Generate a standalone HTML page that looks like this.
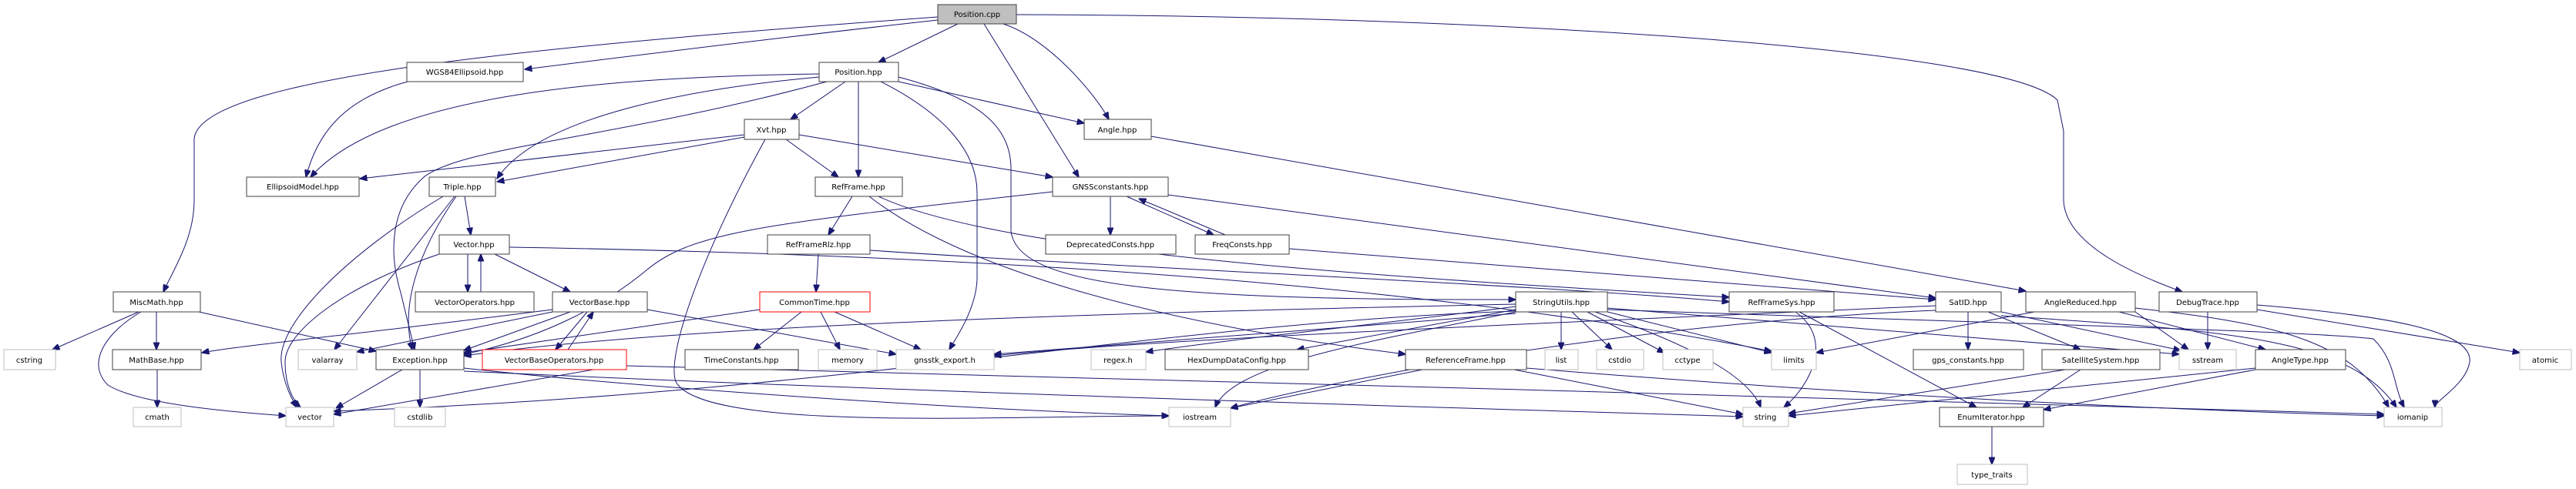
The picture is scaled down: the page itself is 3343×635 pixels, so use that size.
<!DOCTYPE html>
<html><head><meta charset="utf-8"><style>
html,body{margin:0;padding:0;background:#fff;}
svg{display:block;}
text{font-family:"DejaVu Sans","Liberation Sans",sans-serif;font-size:10px;fill:#000;text-anchor:middle;}
.e{fill:none;stroke:#191970;stroke-width:1;marker-end:url(#a);}
.n{fill:#fff;stroke:#404040;stroke-width:1;}
.g{fill:#fff;stroke:#bfbfbf;stroke-width:1;}
.r{fill:#fff;stroke:#ff0000;stroke-width:1;}
</style></head><body>
<svg width="3343" height="635" viewBox="0 0 3343 635" xmlns="http://www.w3.org/2000/svg">
<defs><marker id="a" markerWidth="10" markerHeight="8" refX="9.5" refY="4" orient="auto" markerUnits="userSpaceOnUse"><path d="M0,0 L10,4 L0,8 Z" fill="#191970" stroke="#191970"/></marker></defs>
<g>
<path class="e" d="M1217,26 C1000,50 800,75 681,90"/>
<path class="e" d="M1217,22 C700,60 260,100 252,180 L252,260 C252,310 225,350 212,379"/>
<path class="e" d="M1243,31 L1140,81"/>
<path class="e" d="M1277,31 L1400,230"/>
<path class="e" d="M1302,31 C1360,50 1420,120 1439,155"/>
<path class="e" d="M1319,19 C1900,20 2600,60 2670,130 L2678,170 L2678,260 C2680,320 2780,360 2832,379"/>
<path class="e" d="M1097,106 L1026,155"/>
<path class="e" d="M1114,106 L1114,230"/>
<path class="e" d="M1166,106 L1407,160"/>
<path class="e" d="M1143,106 C1230,150 1268,200 1268,250 L1268,360 C1268,400 1240,440 1232,454"/>
<path class="e" d="M1166,100 C1280,130 1312,170 1312,220 L1312,300 C1320,370 1500,390 1967,389"/>
<path class="e" d="M1063,96 C800,100 500,120 403,230"/>
<path class="e" d="M1063,100 C900,115 700,150 645,232"/>
<path class="e" d="M1073,106 C800,180 600,190 550,230 C505,270 505,330 520,380 L538,454"/>
<path class="e" d="M529,106 C440,130 410,180 397,230"/>
<path class="e" d="M966,175 L467,232"/>
<path class="e" d="M966,178 L645,236"/>
<path class="e" d="M1020,181 L1088,230"/>
<path class="e" d="M1037,175 L1366,230"/>
<path class="e" d="M993,181 C900,350 860,480 880,500 C930,560 1300,540 1517,540"/>
<path class="e" d="M603,255 L611,305"/>
<path class="e" d="M575,255 C450,330 360,420 365,470 C368,500 380,520 385,529"/>
<path class="e" d="M590,255 L434,454"/>
<path class="e" d="M592,255 C540,330 520,400 535,454"/>
<path class="e" d="M607,330 L607,379"/>
<path class="e" d="M624,379 L624,330"/>
<path class="e" d="M642,330 L740,379"/>
<path class="e" d="M570,330 C450,370 370,430 370,470 C370,500 380,520 390,529"/>
<path class="e" d="M661,321 C1200,330 1800,360 2299,456"/>
<path class="e" d="M762,405 L721,454"/>
<path class="e" d="M737,454 L770,405"/>
<path class="e" d="M740,405 L602,455"/>
<path class="e" d="M717,402 C500,430 300,450 262,458"/>
<path class="e" d="M840,402 L1163,460"/>
<path class="e" d="M717,405 L463,457"/>
<path class="e" d="M770,480 L433,538"/>
<path class="e" d="M813,475 C1300,490 2600,520 3094,538"/>
<path class="e" d="M522,480 L436,530"/>
<path class="e" d="M545,480 L545,529"/>
<path class="e" d="M602,478 C800,500 1200,530 1517,540"/>
<path class="e" d="M602,482 C1200,510 1900,530 2262,541"/>
<path class="e" d="M180,405 L68,454"/>
<path class="e" d="M203,405 L203,454"/>
<path class="e" d="M183,405 C140,430 110,470 140,500 C180,525 300,535 371,540"/>
<path class="e" d="M258,405 L488,456"/>
<path class="e" d="M204,480 L204,529"/>
<path class="e" d="M1106,255 L1075,305"/>
<path class="e" d="M1140,255 C1300,330 1800,360 2244,386"/>
<path class="e" d="M1128,255 C1250,350 1500,420 1824,460"/>
<path class="e" d="M1062,330 L1059,379"/>
<path class="e" d="M1129,325 C1500,350 2000,370 2244,392"/>
<path class="e" d="M1040,405 L978,454"/>
<path class="e" d="M1065,405 L1090,454"/>
<path class="e" d="M1083,405 L1195,454"/>
<path class="e" d="M986,402 L602,458"/>
<path class="e" d="M1441,255 L1441,305"/>
<path class="e" d="M1462,255 L1575,305"/>
<path class="e" d="M1590,305 L1478,258"/>
<path class="e" d="M1366,249 C1000,290 900,300 840,350 C780,400 700,440 602,460"/>
<path class="e" d="M1516,253 L2512,387"/>
<path class="e" d="M1673,323 L2512,389"/>
<path class="e" d="M1494,177 L2629,378"/>
<path class="e" d="M1967,395 C1500,405 900,420 602,462"/>
<path class="e" d="M1967,398 C1800,420 1600,440 1487,457"/>
<path class="e" d="M1967,402 L1683,454"/>
<path class="e" d="M1967,405 C1800,440 1600,470 1577,529"/>
<path class="e" d="M2026,405 L2026,454"/>
<path class="e" d="M2040,405 L2092,454"/>
<path class="e" d="M2060,405 L2160,458"/>
<path class="e" d="M2086,405 L2299,458"/>
<path class="e" d="M2070,405 C2200,450 2270,490 2285,529"/>
<path class="e" d="M2086,400 L2828,460"/>
<path class="e" d="M2086,402 C2600,420 3000,430 3080,440 C3110,470 3105,500 3120,529"/>
<path class="e" d="M1967,407 C1700,430 1400,450 1290,460"/>
<path class="e" d="M1967,404 C1500,420 1100,510 433,534"/>
<path class="e" d="M2330,405 C2380,440 2350,500 2315,529"/>
<path class="e" d="M2335,405 L2565,529"/>
<path class="e" d="M2554,405 L2554,454"/>
<path class="e" d="M2580,405 L2700,454"/>
<path class="e" d="M2512,397 C2000,420 1500,440 1290,462"/>
<path class="e" d="M2512,403 C2100,420 1700,500 1597,530"/>
<path class="e" d="M2597,405 L2830,455"/>
<path class="e" d="M2597,410 C2900,430 3050,440 3110,529"/>
<path class="e" d="M2640,405 L2357,458"/>
<path class="e" d="M2750,405 L2940,454"/>
<path class="e" d="M2771,405 L2840,454"/>
<path class="e" d="M2771,400 C2950,420 3050,440 3100,529"/>
<path class="e" d="M2865,405 L2865,454"/>
<path class="e" d="M2929,402 L3270,458"/>
<path class="e" d="M2929,396 C3100,410 3210,430 3205,470 C3200,500 3160,520 3160,529"/>
<path class="e" d="M2680,480 L2321,537"/>
<path class="e" d="M2700,480 L2625,529"/>
<path class="e" d="M2927,480 L2652,532"/>
<path class="e" d="M2927,478 L2321,540"/>
<path class="e" d="M1846,480 L1597,530"/>
<path class="e" d="M1965,480 L2262,538"/>
<path class="e" d="M1981,478 C2500,520 2900,535 3094,540"/>
<path class="e" d="M2585,554 L2585,603"/>
</g>
<g>
<rect x="1217" y="6" width="102" height="25" fill="#bfbfbf" stroke="#404040"/><text x="1268" y="22">Position.cpp</text>
<rect class="n" x="528" y="81" width="151" height="25"/><text x="603" y="97">WGS84Ellipsoid.hpp</text>
<rect class="n" x="1063" y="81" width="103" height="25"/><text x="1114" y="97">Position.hpp</text>
<rect class="n" x="966" y="155" width="71" height="26"/><text x="1001" y="172">Xvt.hpp</text>
<rect class="n" x="1407" y="155" width="87" height="26"/><text x="1450" y="172">Angle.hpp</text>
<rect class="n" x="320" y="230" width="146" height="25"/><text x="393" y="246">EllipsoidModel.hpp</text>
<rect class="n" x="557" y="230" width="86" height="25"/><text x="600" y="246">Triple.hpp</text>
<rect class="n" x="1058" y="230" width="113" height="25"/><text x="1114" y="246">RefFrame.hpp</text>
<rect class="n" x="1366" y="230" width="150" height="25"/><text x="1441" y="246">GNSSconstants.hpp</text>
<rect class="n" x="570" y="305" width="91" height="25"/><text x="615" y="321">Vector.hpp</text>
<rect class="n" x="996" y="305" width="133" height="25"/><text x="1062" y="321">RefFrameRlz.hpp</text>
<rect class="n" x="1357" y="305" width="169" height="25"/><text x="1441" y="321">DeprecatedConsts.hpp</text>
<rect class="n" x="1551" y="305" width="122" height="25"/><text x="1612" y="321">FreqConsts.hpp</text>
<rect class="n" x="147" y="379" width="113" height="26"/><text x="203" y="396">MiscMath.hpp</text>
<rect class="n" x="539" y="379" width="154" height="26"/><text x="616" y="396">VectorOperators.hpp</text>
<rect class="n" x="717" y="379" width="123" height="26"/><text x="778" y="396">VectorBase.hpp</text>
<rect class="r" x="986" y="379" width="143" height="26"/><text x="1057" y="396">CommonTime.hpp</text>
<rect class="n" x="1967" y="379" width="119" height="26"/><text x="2026" y="396">StringUtils.hpp</text>
<rect class="n" x="2244" y="379" width="136" height="26"/><text x="2312" y="396">RefFrameSys.hpp</text>
<rect class="n" x="2512" y="379" width="85" height="26"/><text x="2554" y="396">SatID.hpp</text>
<rect class="n" x="2629" y="379" width="142" height="26"/><text x="2700" y="396">AngleReduced.hpp</text>
<rect class="n" x="2802" y="379" width="127" height="26"/><text x="2865" y="396">DebugTrace.hpp</text>
<rect class="g" x="5" y="454" width="67" height="26"/><text x="38" y="471">cstring</text>
<rect class="n" x="146" y="454" width="115" height="26"/><text x="203" y="471">MathBase.hpp</text>
<rect class="g" x="387" y="454" width="76" height="26"/><text x="425" y="471">valarray</text>
<rect class="n" x="488" y="454" width="114" height="26"/><text x="545" y="471">Exception.hpp</text>
<rect class="r" x="626" y="454" width="187" height="26"/><text x="719" y="471">VectorBaseOperators.hpp</text>
<rect class="n" x="889" y="454" width="147" height="26"/><text x="962" y="471">TimeConstants.hpp</text>
<rect class="g" x="1062" y="454" width="76" height="26"/><text x="1100" y="471">memory</text>
<rect class="g" x="1163" y="454" width="127" height="26"/><text x="1226" y="471">gnsstk_export.h</text>
<rect class="g" x="1416" y="454" width="71" height="26"/><text x="1451" y="471">regex.h</text>
<rect class="n" x="1512" y="454" width="186" height="26"/><text x="1605" y="471">HexDumpDataConfig.hpp</text>
<rect class="n" x="1824" y="454" width="157" height="26"/><text x="1902" y="471">ReferenceFrame.hpp</text>
<rect class="g" x="2005" y="454" width="43" height="26"/><text x="2026" y="471">list</text>
<rect class="g" x="2072" y="454" width="61" height="26"/><text x="2102" y="471">cstdio</text>
<rect class="g" x="2158" y="454" width="65" height="26"/><text x="2190" y="471">cctype</text>
<rect class="g" x="2299" y="454" width="58" height="26"/><text x="2328" y="471">limits</text>
<rect class="n" x="2483" y="454" width="143" height="26"/><text x="2554" y="471">gps_constants.hpp</text>
<rect class="n" x="2650" y="454" width="153" height="26"/><text x="2726" y="471">SatelliteSystem.hpp</text>
<rect class="g" x="2828" y="454" width="74" height="26"/><text x="2865" y="471">sstream</text>
<rect class="n" x="2927" y="454" width="117" height="26"/><text x="2985" y="471">AngleType.hpp</text>
<rect class="g" x="3270" y="454" width="67" height="26"/><text x="3303" y="471">atomic</text>
<rect class="g" x="173" y="529" width="62" height="25"/><text x="204" y="545">cmath</text>
<rect class="g" x="371" y="529" width="62" height="25"/><text x="402" y="545">vector</text>
<rect class="g" x="512" y="529" width="66" height="25"/><text x="545" y="545">cstdlib</text>
<rect class="g" x="1517" y="529" width="80" height="25"/><text x="1557" y="545">iostream</text>
<rect class="g" x="2262" y="529" width="59" height="25"/><text x="2291" y="545">string</text>
<rect class="n" x="2517" y="529" width="135" height="25"/><text x="2584" y="545">EnumIterator.hpp</text>
<rect class="g" x="3094" y="529" width="75" height="25"/><text x="3131" y="545">iomanip</text>
<rect class="g" x="2540" y="603" width="91" height="26"/><text x="2585" y="620">type_traits</text>
</g>
</svg>
</body></html>
